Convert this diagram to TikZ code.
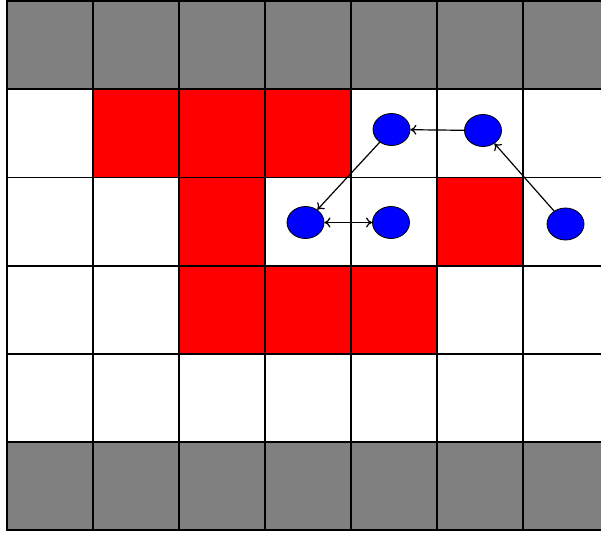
\documentclass[tikz,border=0pt]{standalone}
\usetikzlibrary{arrows.meta,shapes.geometric}
\definecolor{wallgray}{HTML}{808080}
\definecolor{blockred}{HTML}{FF0000}
\definecolor{agentblue}{HTML}{0000FF}
\begin{document}
\begin{tikzpicture}[x=1pt,y=-1pt,
  cellbox/.style={draw=black,line width=1.8pt},
  agent/.style={ellipse,draw=black,line width=0.8pt,fill=agentblue,minimum width=37pt,minimum height=32pt,inner sep=0pt},
  link/.style={line width=1.2pt,-{To[length=6pt,width=10pt]}},
  dlink/.style={line width=1.2pt,{To[length=6pt,width=10pt]}-{To[length=6pt,width=10pt]}}]
\useasboundingbox (0,0) rectangle (601,533);
\fill[white] (0,0) rectangle (601,533);
\begin{scope}
\clip (0,0) rectangle (601,533);
% grid: columns 0..6, rows 0..5
\foreach \c in {0,...,6}{
  \foreach \r in {0,...,5}{
    \pgfmathsetmacro{\xa}{7+86*\c}
    \pgfmathsetmacro{\ya}{1+88.2*\r}
    \pgfmathsetmacro{\xb}{7+86*(\c+1)}
    \pgfmathsetmacro{\yb}{1+88.2*(\r+1)}
    \def\fc{white}
    \ifnum\r=0 \def\fc{wallgray}\fi
    \ifnum\r=5 \def\fc{wallgray}\fi
    \draw[cellbox,fill=\fc] (\xa,\ya) rectangle (\xb,\yb);
  }
}
% red cells
\foreach \c/\r in {1/1,2/1,3/1,2/2,5/2,2/3,3/3,4/3}{
  \pgfmathsetmacro{\xa}{7+86*\c}
  \pgfmathsetmacro{\ya}{1+88.2*\r}
  \pgfmathsetmacro{\xb}{7+86*(\c+1)}
  \pgfmathsetmacro{\yb}{1+88.2*(\r+1)}
  \draw[cellbox,fill=blockred] (\xa,\ya) rectangle (\xb,\yb);
}
\end{scope}
% agents
\node[agent] (a1) at (391.5,129.5) {};
\node[agent] (a2) at (483,130.5) {};
\node[agent] (a3) at (305.5,222.5) {};
\node[agent] (a4) at (391,222.5) {};
\node[agent] (a5) at (565.5,224) {};
% connectors
\draw[link] (a2) -- (a1);
\draw[link] (a5) -- (a2);
\draw[link] (a1) -- (a3);
\draw[dlink] (a3) -- (a4);
\end{tikzpicture}
\end{document}
